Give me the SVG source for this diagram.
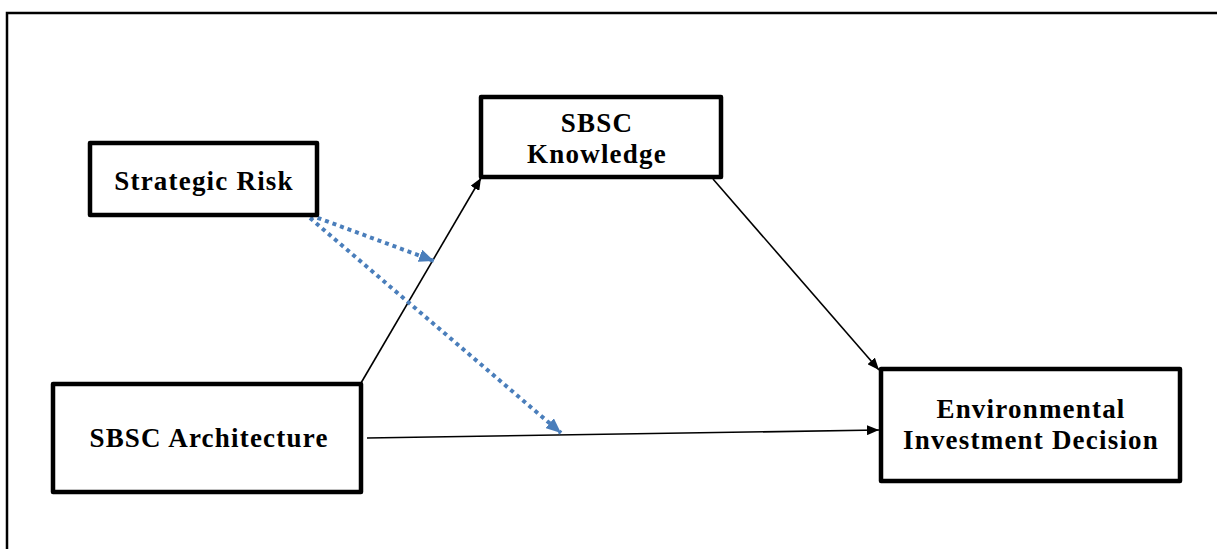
<svg xmlns="http://www.w3.org/2000/svg" width="1217" height="549" viewBox="0 0 1217 549">
<style>
.box{fill:#fff;stroke:#000;stroke-width:4.5;stroke-linejoin:round}
.lbl{font-family:"Liberation Serif","Times New Roman",serif;font-weight:bold;font-size:27px;letter-spacing:1.2px;fill:#000;text-anchor:middle}
.edge{stroke:#000;stroke-width:1.6;fill:none}
.dot{stroke:#4a7ebb;stroke-width:4;stroke-dasharray:4 4;fill:none}
</style>
<defs>
<marker id="ah" viewBox="0 0 12 10" refX="12" refY="5" markerWidth="12" markerHeight="10" markerUnits="userSpaceOnUse" orient="auto">
<path d="M0,0 L12,5 L0,10 Z" fill="#000"/>
</marker>
<marker id="bh" viewBox="0 0 15 13" refX="15" refY="6.5" markerWidth="15" markerHeight="13" markerUnits="userSpaceOnUse" orient="auto">
<path d="M0,0 L15,6.5 L0,13 Z" fill="#4a7ebb"/>
</marker>
</defs>
<rect width="1217" height="549" fill="#fff"/>
<path d="M7,549 V13 H1217" fill="none" stroke="#000" stroke-width="2.5"/>
<g id="connectors">
<line class="edge" x1="361" y1="383" x2="481" y2="178" marker-end="url(#ah)"/>
<line class="edge" x1="713" y1="179" x2="879" y2="370" marker-end="url(#ah)"/>
<line class="edge" x1="367" y1="438" x2="879" y2="430" marker-end="url(#ah)"/>
<line class="dot" x1="310" y1="215" x2="434" y2="261" marker-end="url(#bh)"/>
<line class="dot" x1="310" y1="218" x2="561" y2="433" marker-end="url(#bh)"/>
</g>
<g id="strategic-risk">
<rect class="box" x="90" y="143" width="227" height="72"/>
<text class="lbl" x="204" y="190">Strategic Risk</text>
</g>
<g id="sbsc-knowledge">
<rect class="box" x="481" y="97" width="240" height="80"/>
<text class="lbl" x="597" y="132">SBSC</text>
<text class="lbl" x="597" y="163">Knowledge</text>
</g>
<g id="sbsc-architecture">
<rect class="box" x="53" y="384" width="308" height="108"/>
<text class="lbl" x="209" y="447">SBSC Architecture</text>
</g>
<g id="environmental-investment-decision">
<rect class="box" x="881" y="369" width="299" height="112"/>
<text class="lbl" x="1031" y="418">Environmental</text>
<text class="lbl" x="1031" y="449">Investment Decision</text>
</g>
</svg>
